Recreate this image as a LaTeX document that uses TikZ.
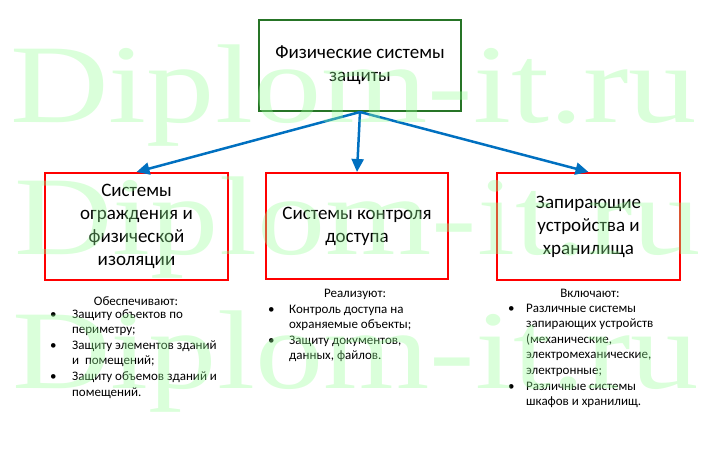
\documentclass[tikz,border=0pt]{standalone}
\usepackage{fontspec}
\setmainfont{Carlito}
\newfontfamily\wmfont{Liberation Serif}
\usetikzlibrary{arrows.meta}

\definecolor{framegreen}{RGB}{38,116,38}
\definecolor{framered}{RGB}{255,0,0}
\definecolor{arrowblue}{RGB}{0,112,192}
\definecolor{wmgreen}{RGB}{150,255,150}

\begin{document}
\begin{tikzpicture}[x=1pt, y=-1pt,
    sysbox/.style={draw=framered, line width=2pt, align=center, inner sep=0pt,
        minimum width=183pt, minimum height=107pt, font=\fontsize{19}{23}\selectfont},
    listtext/.style={anchor=north west, inner sep=0pt, align=left,
        font=\fontsize{13}{15.6}\selectfont},
    listhead/.style={inner sep=0pt, font=\fontsize{13}{15.6}\selectfont},
    link/.style={draw=arrowblue, line width=2.5pt, -{Triangle[length=13pt,width=12pt]}},
    wmark/.style={anchor=base west, inner sep=0pt, text=wmgreen, opacity=0.35,
        xscale=1.22, font=\wmfont\fontsize{112}{112}\selectfont}]
    \useasboundingbox (0,0) rectangle (713,460);

    % top box
    \node[sysbox, draw=framegreen, minimum width=202pt, minimum height=91pt]
        (phys) at (360,65.5) {Физические системы\\защиты};

    % three systems
    \node[sysbox] (fence) at (136.5,226.5) {Системы\\ограждения и\\физической\\изоляции};
    \node[sysbox, minimum width=182pt, minimum height=106pt]
        (access) at (357,226) {Системы контроля\\доступа};
    \node[sysbox] (locks) at (588.5,226.5) {Запирающие\\устройства и\\хранилища};

    \draw[link] (phys.south) -- (fence.north);
    \draw[link] (phys.south) -- (access.north);
    \draw[link] (phys.south) -- (locks.north);

    % lists under the boxes
    \node[listhead] (fencehead) at (136,301) {Обеспечивают:};
    \node[listtext] (fencelist) at (50,307) {%
        \begin{tabular}{@{}l@{\hspace{15.5pt}}l@{}}
        \textbullet & Защиту объектов по\\
                    & периметру;\\
        \textbullet & Защиту элементов зданий\\
                    & и\ \ помещений;\\
        \textbullet & Защиту объемов зданий и\\
                    & помещений.
        \end{tabular}};

    \node[listhead] (accesshead) at (355,294) {Реализуют:};
    \node[listtext] (accesslist) at (268,302) {%
        \begin{tabular}{@{}l@{\hspace{14.5pt}}l@{}}
        \textbullet & Контроль доступа на\\
                    & охраняемые объекты;\\
        \textbullet & Защиту документов,\\
                    & данных, файлов.
        \end{tabular}};

    \node[listhead] (lockshead) at (590,293) {Включают:};
    \node[listtext] (lockslist) at (508,301) {%
        \begin{tabular}{@{}l@{\hspace{11.5pt}}l@{}}
        \textbullet & Различные системы\\
                    & запирающих устройств\\
                    & (механические,\\
                    & электромеханические,\\
                    & электронные;\\
        \textbullet & Различные системы\\
                    & шкафов и хранилищ.
        \end{tabular}};

    % watermark
    \node[wmark] (wm1) at (10,122) {Diplom-it.ru};
    \node[wmark] (wm2) at (14,254) {Diplom-it.ru};
    \node[wmark] (wm3) at (12,388) {Diplom-it.ru};
\end{tikzpicture}
\end{document}
